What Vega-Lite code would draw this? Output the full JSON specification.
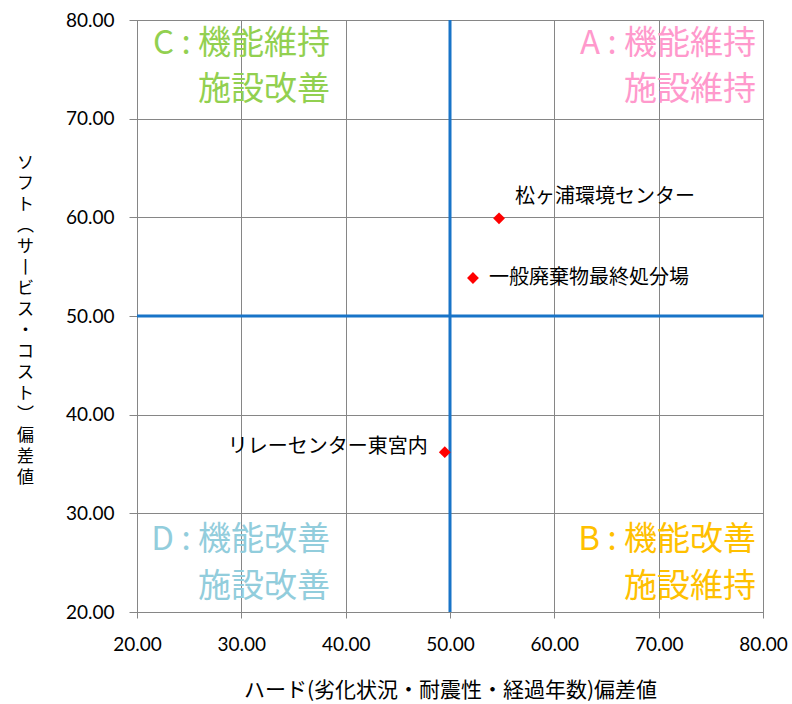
{
  "$schema": "https://vega.github.io/schema/vega-lite/v6.json",
  "width": 626,
  "height": 592,
  "autosize": {"type": "none"},
  "padding": {"left": 137, "top": 20, "right": 29, "bottom": 92},
  "background": "white",
  "config": {
    "view": {"stroke": "#868686", "strokeWidth": 1},
    "font": "Noto Sans CJK JP"
  },
  "datasets": {
    "facilities": [
      {"name": "松ヶ浦環境センター", "hard": 54.7, "soft": 59.9},
      {"name": "一般廃棄物最終処分場", "hard": 52.2, "soft": 53.85},
      {"name": "リレーセンター東宮内", "hard": 49.5, "soft": 36.2}
    ],
    "quadrants": [
      {"q": "A", "text": "A : 機能維持", "x": 79.33, "y": 77.6},
      {"q": "A", "text": "施設維持", "x": 79.33, "y": 72.9},
      {"q": "B", "text": "B : 機能改善", "x": 79.33, "y": 27.3},
      {"q": "B", "text": "施設維持", "x": 79.33, "y": 22.5},
      {"q": "C", "text": "C : 機能維持", "x": 38.5, "y": 77.6},
      {"q": "C", "text": "施設改善", "x": 38.5, "y": 72.9},
      {"q": "D", "text": "D : 機能改善", "x": 38.5, "y": 27.3},
      {"q": "D", "text": "施設改善", "x": 38.5, "y": 22.5}
    ],
    "centre": [{"v": 50}]
  },
  "layer": [
    {
      "data": {"name": "facilities"},
      "mark": {"type": "point", "opacity": 0},
      "encoding": {
        "x": {
          "field": "hard", "type": "quantitative",
          "scale": {"domain": [20, 80], "nice": false, "zero": false},
          "axis": {
            "values": [20, 30, 40, 50, 60, 70, 80],
            "format": ".2f", "labelFlush": false, "labelOverlap": false,
            "grid": true, "gridColor": "#868686", "gridWidth": 1, "gridOpacity": 1,
            "domainColor": "#868686", "tickColor": "#868686", "tickSize": 6,
            "labelFont": "Lato", "labelFontSize": 19, "labelColor": "#000000", "labelPadding": 17,
            "title": "ハード(劣化状況・耐震性・経過年数)偏差値",
            "titleFont": "Noto Sans CJK JP", "titleFontSize": 21, "titleFontWeight": "normal",
            "titleColor": "#000000", "titlePadding": 25
          }
        },
        "y": {
          "field": "soft", "type": "quantitative",
          "scale": {"domain": [20, 80], "nice": false, "zero": false},
          "axis": {
            "values": [20, 30, 40, 50, 60, 70, 80],
            "format": ".2f", "labelFlush": false, "labelOverlap": false,
            "grid": true, "gridColor": "#868686", "gridWidth": 1, "gridOpacity": 1,
            "domainColor": "#868686", "tickColor": "#868686", "tickSize": 8,
            "labelFont": "Lato", "labelFontSize": 19, "labelColor": "#000000", "labelPadding": 15,
            "title": ["ソ","フ","ト","︵","サ","丨","ビ","ス","・","コ","ス","ト","︶","偏","差","値"],
            "titleFont": "Noto Sans CJK JP", "titleFontSize": 17, "titleFontWeight": "normal",
            "titleColor": "#000000", "titleAngle": 0, "titleAlign": "center",
            "titleBaseline": "middle", "titleLineHeight": 21,
            "titleX": -112, "titleY": 142
          }
        }
      }
    },
    {
      "data": {"name": "centre"},
      "mark": {"type": "rule", "color": "#1874C8", "strokeWidth": 3},
      "encoding": {"x": {"field": "v", "type": "quantitative"}}
    },
    {
      "data": {"name": "centre"},
      "mark": {"type": "rule", "color": "#1874C8", "strokeWidth": 3},
      "encoding": {"y": {"field": "v", "type": "quantitative"}}
    },
    {
      "data": {"name": "quadrants"},
      "mark": {"type": "text", "align": "right", "baseline": "middle", "fontSize": 33, "font": "Noto Sans CJK JP"},
      "encoding": {
        "x": {"field": "x", "type": "quantitative"},
        "y": {"field": "y", "type": "quantitative"},
        "text": {"field": "text"},
        "color": {
          "field": "q", "type": "nominal", "legend": null,
          "scale": {"domain": ["A", "B", "C", "D"], "range": ["#FF99CC", "#FFC000", "#92D050", "#92CDDC"]}
        }
      }
    },
    {
      "data": {"name": "facilities"},
      "mark": {"type": "point", "shape": "diamond", "filled": true, "color": "#FF0000", "size": 140, "opacity": 1},
      "encoding": {
        "x": {"field": "hard", "type": "quantitative"},
        "y": {"field": "soft", "type": "quantitative"}
      }
    },
    {
      "data": {"name": "facilities"},
      "transform": [{"filter": "datum.name === '松ヶ浦環境センター'"}],
      "mark": {"type": "text", "align": "left", "baseline": "middle", "dx": 16, "dy": -21, "fontSize": 20, "font": "Noto Sans CJK JP", "color": "#000000"},
      "encoding": {
        "x": {"field": "hard", "type": "quantitative"},
        "y": {"field": "soft", "type": "quantitative"},
        "text": {"field": "name"}
      }
    },
    {
      "data": {"name": "facilities"},
      "transform": [{"filter": "datum.name === '一般廃棄物最終処分場'"}],
      "mark": {"type": "text", "align": "left", "baseline": "middle", "dx": 16, "dy": 0, "fontSize": 20, "font": "Noto Sans CJK JP", "color": "#000000"},
      "encoding": {
        "x": {"field": "hard", "type": "quantitative"},
        "y": {"field": "soft", "type": "quantitative"},
        "text": {"field": "name"}
      }
    },
    {
      "data": {"name": "facilities"},
      "transform": [{"filter": "datum.name === 'リレーセンター東宮内'"}],
      "mark": {"type": "text", "align": "right", "baseline": "middle", "dx": -17, "dy": -5, "fontSize": 20, "font": "Noto Sans CJK JP", "color": "#000000"},
      "encoding": {
        "x": {"field": "hard", "type": "quantitative"},
        "y": {"field": "soft", "type": "quantitative"},
        "text": {"field": "name"}
      }
    }
  ]
}
